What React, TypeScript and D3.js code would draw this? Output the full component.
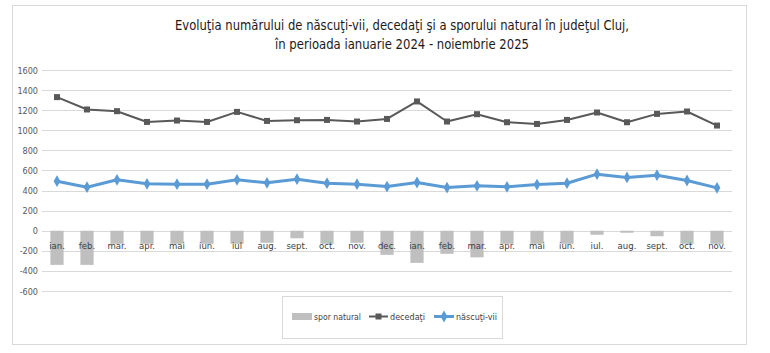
import React from 'react';
import * as d3 from 'd3';

const months = ['ian.', 'feb.', 'mar.', 'apr.', 'mai', 'iun.', 'iul', 'aug.', 'sept.', 'oct.', 'nov.', 'dec.',
  'ian.', 'feb.', 'mar.', 'apr.', 'mai', 'iun.', 'iul.', 'aug.', 'sept.', 'oct.', 'nov.'];

const decedati = [1330, 1207, 1190, 1083, 1097, 1083, 1183, 1093, 1100, 1103, 1087, 1113,
  1287, 1087, 1160, 1080, 1063, 1103, 1177, 1080, 1163, 1187, 1047];

const nascutiVii = [493, 433, 507, 467, 463, 463, 507, 477, 513, 473, 463, 440,
  480, 430, 447, 437, 460, 473, 563, 530, 553, 500, 427];

const sporNatural = [-340, -340, -130, -130, -130, -130, -130, -120, -75, -130, -120, -240,
  -320, -230, -265, -130, -130, -130, -40, -20, -55, -130, -130];

const yTicks = [-600, -400, -200, 0, 200, 400, 600, 800, 1000, 1200, 1400, 1600];

const titleLines = [
  'Evoluţia numărului de născuţi-vii, decedaţi şi a sporului natural în judeţul Cluj,',
  'în perioada ianuarie 2024 - noiembrie 2025',
];

const font = '"Liberation Sans Narrow", "DejaVu Sans Condensed", "Liberation Sans", sans-serif';

const App: React.FC = () => {
  const width = 770;
  const height = 353;

  const x = d3.scaleBand<number>()
    .domain(months.map((d, i) => i))
    .range([42, 732]);
  const y = d3.scaleLinear().domain([-600, 1600]).range([291, 70]);

  const bw = x.bandwidth();
  const barW = bw * 0.44;
  const cx = (i: number) => (x(i) || 0) + bw / 2;

  const line = d3.line<number>()
    .x((d, i) => cx(i))
    .y(d => y(d));

  const diamond = d3.symbol().type(d3.symbolDiamond).size(40)();

  return (
    <svg width={width} height={height} style={{ position: 'absolute', left: 0, top: 0 }}>
      <rect x={0} y={0} width={width} height={height} fill="#ffffff" />
      <rect x={12.5} y={5.5} width={734} height={339} fill="#ffffff" stroke="#d9d9d9" />

      {titleLines.map((t, i) => (
        <text key={i} x={402} y={30 + i * 19} textAnchor="middle" fontFamily={font}
          fontSize={14} fill="#1a1a1a" textLength={i === 0 ? 454 : 254} lengthAdjust="spacingAndGlyphs">{t}</text>
      ))}

      {/* grid */}
      {yTicks.map(t => (
        <g key={t}>
          <line x1={42} x2={732} y1={Math.round(y(t)) + 0.5} y2={Math.round(y(t)) + 0.5} stroke="#d9d9d9" strokeWidth={1} />
          <text x={38} y={y(t) + 3.5} textAnchor="end" fontFamily={font} fontSize={9} fill="#595959">{t}</text>
        </g>
      ))}

      {/* spor natural bars */}
      {sporNatural.map((d, i) => (
        <rect key={i} x={cx(i) - barW / 2} y={y(0)} width={barW} height={y(d) - y(0)} fill="#bfbfbf" />
      ))}

      {/* month labels */}
      {months.map((m, i) => (
        <text key={i} x={cx(i)} y={248.5} textAnchor="middle" fontFamily={font} fontSize={9.5} fill="#404040">{m}</text>
      ))}

      {/* decedati */}
      <path d={line(decedati) || ''} fill="none" stroke="#595959" strokeWidth={2} strokeLinejoin="round" />
      {decedati.map((d, i) => (
        <rect key={i} x={cx(i) - 3} y={y(d) - 3} width={6} height={6} fill="#595959" />
      ))}

      {/* nascuti-vii */}
      <path d={line(nascutiVii) || ''} fill="none" stroke="#5b9bd5" strokeWidth={3} strokeLinejoin="round" />
      {nascutiVii.map((d, i) => (
        <path key={i} d={diamond || ''} transform={`translate(${cx(i)},${y(d)})`} fill="#5b9bd5" />
      ))}

      {/* legend */}
      <rect x={282.5} y={296.5} width={220} height={42} fill="#ffffff" stroke="#d9d9d9" />
      <rect x={292} y={313} width={20} height={7} fill="#bfbfbf" />
      <text x={314} y={320} fontFamily={font} fontSize={9.5} fill="#404040" textLength={47} lengthAdjust="spacingAndGlyphs">spor natural</text>
      <line x1={369} x2={388} y1={316.5} y2={316.5} stroke="#595959" strokeWidth={2} />
      <rect x={375.5} y={313.5} width={6} height={6} fill="#595959" />
      <text x={390} y={320} fontFamily={font} fontSize={9.5} fill="#404040" textLength={35} lengthAdjust="spacingAndGlyphs">decedaţi</text>
      <line x1={434} x2={454} y1={316.5} y2={316.5} stroke="#5b9bd5" strokeWidth={3} />
      <path d={diamond || ''} transform="translate(444,316.5)" fill="#5b9bd5" />
      <text x={456} y={320} fontFamily={font} fontSize={9.5} fill="#404040" textLength={41} lengthAdjust="spacingAndGlyphs">născuţi-vii</text>
    </svg>
  );
};

export default App;
